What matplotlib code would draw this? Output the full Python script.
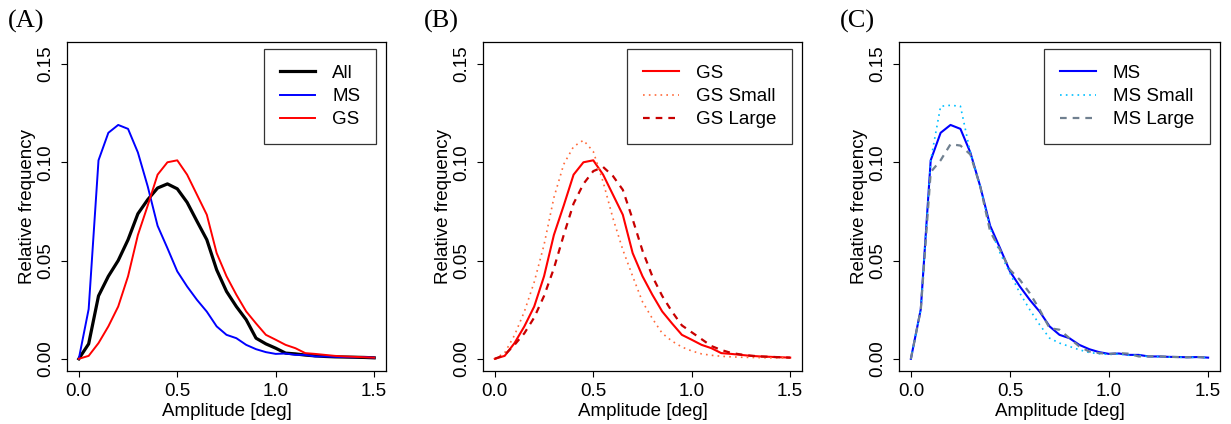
import numpy as np
import matplotlib
matplotlib.use("Agg")
import matplotlib.pyplot as plt

amplitude = np.round(np.arange(0, 1.5001, 0.05), 2)

all_freq = [0.0, 0.0076, 0.032, 0.042, 0.050, 0.0606, 0.0738, 0.081, 0.0869, 0.089,
            0.0865, 0.0796, 0.070, 0.0606, 0.0453, 0.0343, 0.0266, 0.0199, 0.0105, 0.0076,
            0.0054, 0.0029, 0.0025, 0.0019, 0.0015, 0.0012, 0.0010, 0.0009, 0.0008, 0.0007, 0.0005]
ms_freq = [0.0, 0.0253, 0.101, 0.115, 0.119, 0.117, 0.105, 0.0877, 0.0677, 0.0563,
           0.0445, 0.0368, 0.030, 0.024, 0.0165, 0.0122, 0.0105, 0.0071, 0.0049, 0.0034,
           0.0025, 0.0027, 0.0020, 0.0020, 0.0012, 0.0012, 0.0010, 0.0009, 0.0008, 0.0009, 0.0006]
gs_freq = [0.0, 0.0015, 0.0080, 0.0165, 0.0266, 0.042, 0.063, 0.078, 0.0937, 0.100,
           0.101, 0.0937, 0.0835, 0.0733, 0.0538, 0.042, 0.0326, 0.0241, 0.018, 0.0122,
           0.0097, 0.0071, 0.0054, 0.0029, 0.0025, 0.0020, 0.0015, 0.0012, 0.0010, 0.0008, 0.0006]
gs_small = [0.0, 0.003, 0.012, 0.024, 0.039, 0.058, 0.082, 0.099, 0.108, 0.1112,
            0.1055, 0.090, 0.0715, 0.0555, 0.042, 0.029, 0.0205, 0.013, 0.009, 0.006,
            0.004, 0.0025, 0.0018, 0.0013, 0.0010, 0.0008, 0.0007, 0.0006, 0.0005, 0.0005, 0.0004]
gs_large = [0.0, 0.002, 0.0071, 0.013, 0.021, 0.032, 0.046, 0.063, 0.079, 0.089,
            0.0955, 0.0976, 0.093, 0.086, 0.071, 0.055, 0.042, 0.032, 0.024, 0.017,
            0.0135, 0.0100, 0.0065, 0.0045, 0.0030, 0.0022, 0.0016, 0.0012, 0.0010, 0.0008, 0.0006]
ms_small = [0.0, 0.025, 0.101, 0.1285, 0.129, 0.1285, 0.105, 0.0877, 0.0665, 0.0538,
            0.0436, 0.0334, 0.025, 0.0173, 0.0105, 0.008, 0.0063, 0.0046, 0.0032, 0.0026,
            0.0022, 0.0024, 0.0018, 0.0018, 0.0011, 0.0011, 0.0009, 0.0008, 0.0007, 0.0008, 0.0005]
ms_large = [0.0, 0.025, 0.095, 0.101, 0.1092, 0.1085, 0.104, 0.0877, 0.0648, 0.0555,
            0.0453, 0.0402, 0.0334, 0.025, 0.0156, 0.0148, 0.0105, 0.0063, 0.0037, 0.0029,
            0.0025, 0.0029, 0.0026, 0.0012, 0.0012, 0.0013, 0.0010, 0.0009, 0.0008, 0.0009, 0.0006]

xticks = [0.0, 0.5, 1.0, 1.5]
xtick_labels = ["0.0", "0.5", "1.0", "1.5"]
yticks = [0.00, 0.05, 0.10, 0.15]
ytick_labels = ["0.00", "0.05", "0.10", "0.15"]
panel_labels = ["(A)", "(B)", "(C)"]

plt.rcParams['font.family'] = ['Liberation Sans', 'DejaVu Sans']

W, H = 1231, 424
fig = plt.figure(figsize=(W / 100, H / 100), dpi=100)

lefts = [67, 483, 899]
widths = [319, 319, 321]
top_px, bot_px = 42, 371
axes = []
for l, w in zip(lefts, widths):
    ax = fig.add_axes([l / W, 1 - bot_px / H, w / W, (bot_px - top_px) / H])
    axes.append(ax)

FS = 13.5
dot = (0, (1, 2.5))
dash = (0, (3, 2.7))

ax = axes[0]
ax.plot(amplitude, all_freq, color="black", lw=2.3, label="All")
ax.plot(amplitude, ms_freq, color="#0000FF", lw=1.4, label="MS")
ax.plot(amplitude, gs_freq, color="#FF0000", lw=1.4, label="GS")

ax = axes[1]
ax.plot(amplitude, gs_freq, color="#FF0000", lw=1.5, label="GS")
ax.plot(amplitude, gs_small, color="#FF6A3A", lw=1.2, linestyle=dot, label="GS Small")
ax.plot(amplitude, gs_large, color="#C80000", lw=1.6, linestyle=dash, label="GS Large")

ax = axes[2]
ax.plot(amplitude, ms_freq, color="#0000FF", lw=1.5, label="MS")
ax.plot(amplitude, ms_small, color="#00BFFF", lw=1.2, linestyle=dot, label="MS Small")
ax.plot(amplitude, ms_large, color="#708090", lw=1.6, linestyle=dash, label="MS Large")

for i, ax in enumerate(axes):
    ax.set_xlim(-0.06, 1.56)
    ax.set_ylim(-0.0062, 0.1612)
    ax.set_xticks(xticks)
    ax.set_xticklabels(xtick_labels, fontsize=FS)
    ax.set_yticks(yticks)
    ax.set_yticklabels(ytick_labels, fontsize=FS, rotation=90, va="center")
    ax.tick_params(direction="out", length=4, width=0.8, pad=5)
    ax.set_xlabel("Amplitude [deg]", fontsize=FS, labelpad=2)
    ax.set_ylabel("Relative frequency", fontsize=FS, labelpad=1)
    for s in ax.spines.values():
        s.set_linewidth(0.9)
    leg = ax.legend(loc="upper right", fontsize=FS, frameon=True, fancybox=False,
                    edgecolor="black", handlelength=1.9, handletextpad=0.9,
                    borderpad=0.85, labelspacing=0.32, borderaxespad=0.0,
                    bbox_to_anchor=(0.969, 0.979))
    leg.get_frame().set_linewidth(0.9)
    fig.text((lefts[i] - 59) / W, 1 - 21 / H, panel_labels[i], fontsize=19,
             family=["Liberation Serif", "DejaVu Serif"], va="center", ha="left")

fig.savefig("out.png", dpi=100)
